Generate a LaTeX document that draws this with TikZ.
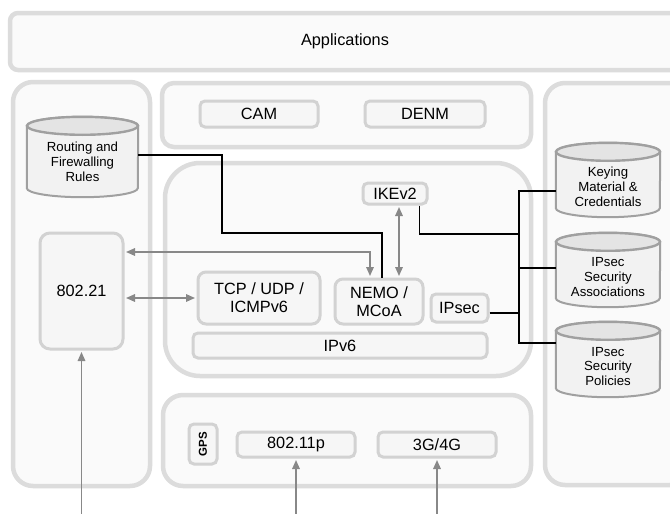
\documentclass[tikz,border=0pt]{standalone}
\usepackage{fontspec}
\setmainfont{Liberation Sans}
\usetikzlibrary{arrows.meta,calc}
\definecolor{contb}{HTML}{DCDCDC}
\definecolor{contf}{HTML}{FAFAFA}
\definecolor{boxb}{HTML}{D2D2D2}
\definecolor{boxf}{HTML}{F6F6F6}
\definecolor{cylb}{HTML}{A0A0A0}
\definecolor{cylbody}{HTML}{F2F2F2}
\definecolor{cyltop}{HTML}{E4E4E4}
\definecolor{arrg}{HTML}{888888}
\newcommand\mfs{\fontsize{16.3}{18}\selectfont}
\newcommand\cfs{\fontsize{13.2}{14.8}\selectfont}
\newcommand\cylshape[2]{%
  \filldraw[draw=cylb, fill=cylbody, line width=2pt]
    ($(#1.north west)+(0,9)$) -- ($(#1.south west)+(0,-9)$)
    arc[start angle=180, end angle=360, x radius=#2pt, y radius=9pt]
    -- ($(#1.north east)+(0,9)$)
    arc[start angle=0, end angle=180, x radius=#2pt, y radius=9pt] -- cycle;
  \filldraw[draw=cylb, fill=cyltop, line width=2.4pt]
    ($(#1.north)+(0,9)$) ellipse[x radius=#2pt, y radius=9pt];
}
\begin{document}
\begin{tikzpicture}[x=1pt, y=-1pt,
  cont/.style={draw=contb, fill=contf, line width=4.5pt, inner sep=0pt},
  ibox/.style={draw=boxb, fill=boxf, line width=3pt, rounded corners=5pt,
    inner sep=0pt, font=\mfs, align=center},
  cylbox/.style={draw=none, inner sep=0pt},
  cyltext/.style={font=\cfs, align=center, inner sep=0pt},
  blk/.style={draw=black, line width=1.6pt},
  garr/.style={draw=arrg, line width=1.6pt,
    >={Triangle[length=9pt,width=7.5pt]}}
]
\useasboundingbox (0,0) rectangle (670,514);
\fill[white] (0,0) rectangle (670,514);

% containers
\node[cont, rounded corners=8pt, minimum width=670pt, minimum height=57pt, font=\mfs]
  (apps) at (345,41.5) {Applications};
\node[cont, rounded corners=20pt, minimum width=137pt, minimum height=404pt]
  (leftc) at (81.5,284) {};
\node[cont, rounded corners=12pt, minimum width=369pt, minimum height=64pt]
  (topc) at (346.5,115) {};
\node[cont, rounded corners=35pt, minimum width=366pt, minimum height=213pt]
  (mainc) at (348,269.5) {};
\node[cont, rounded corners=20pt, minimum width=368pt, minimum height=91pt]
  (botc) at (347,440.5) {};
\node[cont, rounded corners=20pt, minimum width=145pt, minimum height=402pt]
  (rightc) at (617.5,284) {};

% inner boxes
\node[ibox, minimum width=118pt, minimum height=26pt] (cam) at (259,114) {CAM};
\node[ibox, minimum width=120pt, minimum height=26pt] (denm) at (425,114) {DENM};
\node[ibox, minimum width=64pt, minimum height=21pt] (ike) at (395,193.5) {IKEv2};
\node[ibox, rounded corners=8pt, minimum width=122pt, minimum height=52pt] (tcp) at (259,298) {TCP / UDP /\\ICMPv6};
\node[ibox, rounded corners=8pt, minimum width=88pt, minimum height=45pt] (nemo) at (379,301.5) {NEMO /\\MCoA};
\node[ibox, minimum width=57pt, minimum height=28pt] (ipsec) at (459.5,308) {IPsec};
\node[ibox, minimum width=294pt, minimum height=25pt] (ipv6) at (340,345.5) {IPv6};
\node[ibox, rounded corners=10pt, minimum width=83pt, minimum height=116pt] (d21) at (81.5,291) {802.21};
\node[ibox, minimum width=28pt, minimum height=40pt] (gps) at (203,444) {};
\node[font=\fontsize{11.5}{13}\selectfont\bfseries, rotate=90, inner sep=0pt] at (gps.center) {GPS};
\node[ibox, minimum width=118pt, minimum height=25pt] (wifi) at (296,444.5) {802.11p};
\node[ibox, minimum width=118pt, minimum height=25pt] (cell) at (437,444.5) {3G/4G};

% cylinders
\node[cylbox, minimum width=111pt, minimum height=80pt] (rout) at (82.5,157) {};
\cylshape{rout}{55.5}
\node[cyltext] at ($(rout.center)+(0,5)$) {Routing and\\Firewalling\\Rules};
\node[cylbox, minimum width=104pt, minimum height=74pt] (kc) at (608,180) {};
\cylshape{kc}{52}
\node[cyltext] at ($(kc.center)+(0,7)$) {Keying\\Material \&\\Credentials};
\node[cylbox, minimum width=104pt, minimum height=74pt] (sa) at (608,270) {};
\cylshape{sa}{52}
\node[cyltext] at ($(sa.center)+(0,7)$) {IPsec\\Security\\Associations};
\node[cylbox, minimum width=104pt, minimum height=75pt] (sp) at (608,359.5) {};
\cylshape{sp}{52}
\node[cyltext] at ($(sp.center)+(0,7)$) {IPsec\\Security\\Policies};

% coordinates
\coordinate (r1) at (222,155);
\coordinate (r2) at (222,233);
\coordinate (bk) at (519,191);
\coordinate (bi) at (519,234);
\coordinate (bs) at (519,268);
\coordinate (bip) at (519,313);
\coordinate (bp) at (519,343);
\coordinate (ga) at (370,252);
\coordinate (bottom) at (0,514);

% black connectors
\draw[blk] (rout.east |- r1) -- (r1) -- (r2) -| ([xshift=3pt]nemo.north);
\draw[blk] ([xshift=-9pt]ike.south east) |- (bi);
\draw[blk] (kc.west |- bk) -- (bk) -- (bp) -- (sp.west |- bp);
\draw[blk] (bs) -- (sa.west |- bs);
\draw[blk] (ipsec.east |- bip) -- (bip);

% gray arrows
\draw[garr, <->] ([xshift=1.5pt]d21.east |- ga) -- (ga) -- ([xshift=-9pt,yshift=1.5pt]nemo.north);
\draw[garr, <->] ([xshift=1.5pt]d21.east |- tcp.west) -- ([xshift=-1.5pt]tcp.west);
\draw[garr, <->] ([xshift=4pt,yshift=-1.5pt]ike.south) -- ([xshift=20pt,yshift=1.5pt]nemo.north);
\draw[garr, ->] (d21.south |- bottom) -- ([yshift=-1.5pt]d21.south);
\draw[garr, ->] (wifi.south |- bottom) -- ([yshift=-1.5pt]wifi.south);
\draw[garr, ->] (cell.south |- bottom) -- ([yshift=-1.5pt]cell.south);
\end{tikzpicture}
\end{document}
